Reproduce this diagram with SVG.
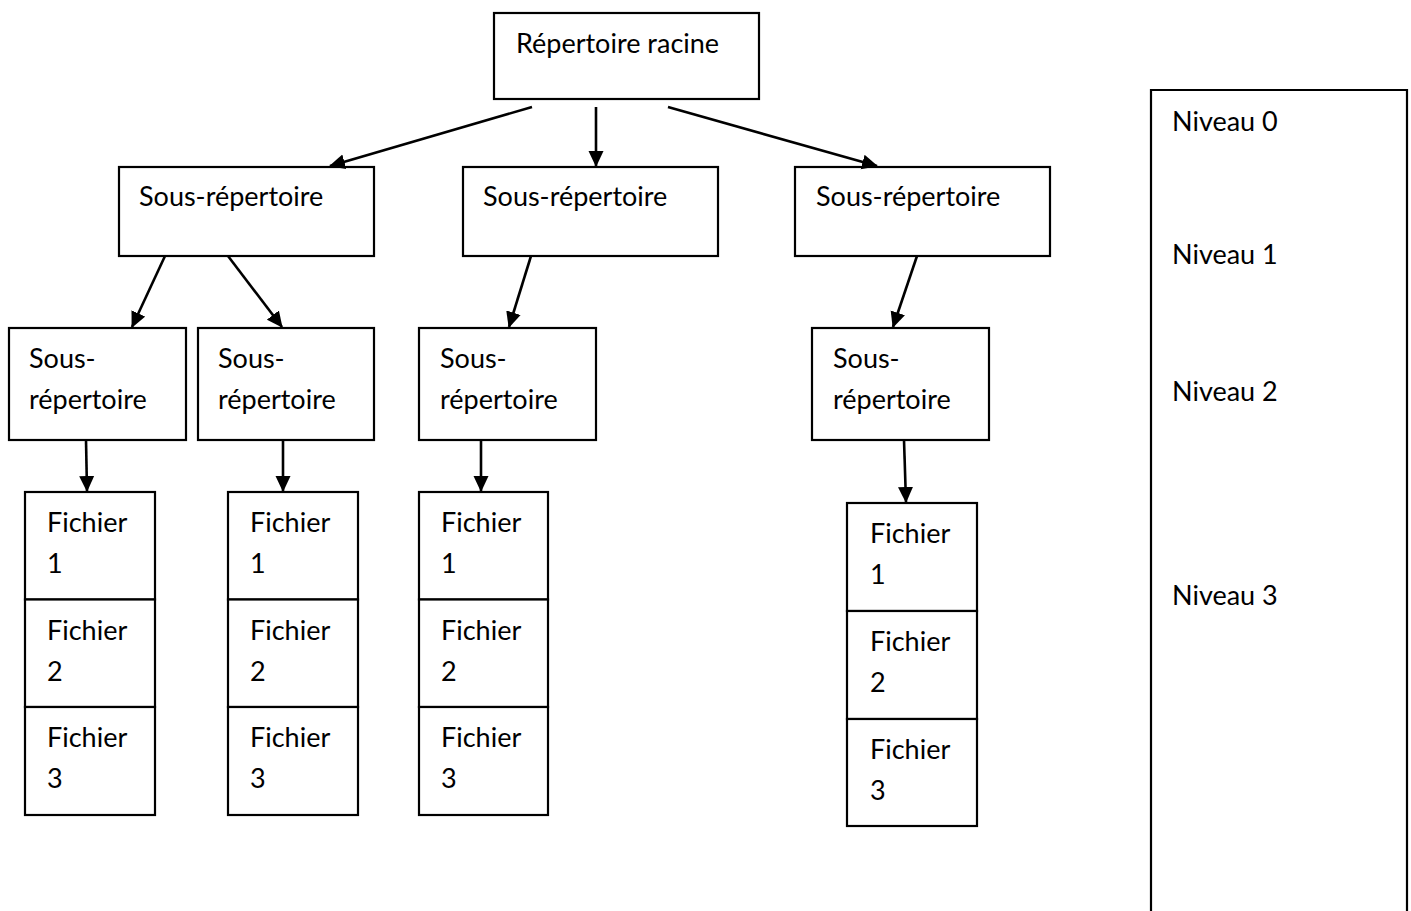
<svg xmlns="http://www.w3.org/2000/svg" width="1411" height="911" viewBox="0 0 1411 911">
  <defs>
    <marker id="arrow" viewBox="0 0 16 16" refX="15" refY="8" markerWidth="16" markerHeight="16" markerUnits="userSpaceOnUse" orient="auto">
      <path d="M0,0.5 L16,8 L0,15.5 z" fill="#000"/>
    </marker>
  </defs>
  <style>
    .box{fill:#fff;stroke:#000;stroke-width:2.2}
    .lbl{font-family:Lato,"Liberation Sans",sans-serif;font-size:27px;fill:#000}
    .conn line{stroke:#000;stroke-width:2.6;fill:none;marker-end:url(#arrow)}
  </style>
  <rect x="0" y="0" width="1411" height="911" fill="#fff"/>

  <!-- root directory -->
  <g id="root">
    <rect class="box" x="494" y="13" width="265" height="86"/>
    <text class="lbl" x="516" y="53">Répertoire racine</text>
  </g>

  <!-- level 1 sub-directories -->
  <g id="sub1">
    <rect class="box" x="119" y="167" width="255" height="89"/>
    <text class="lbl" x="139" y="206">Sous-répertoire</text>
  </g>
  <g id="sub2">
    <rect class="box" x="463" y="167" width="255" height="89"/>
    <text class="lbl" x="483" y="206">Sous-répertoire</text>
  </g>
  <g id="sub3">
    <rect class="box" x="795" y="167" width="255" height="89"/>
    <text class="lbl" x="816" y="206">Sous-répertoire</text>
  </g>

  <!-- level 2 sub-directories -->
  <g id="sub1a">
    <rect class="box" x="9" y="328" width="177" height="112"/>
    <text class="lbl" x="29" y="368">Sous-</text>
    <text class="lbl" x="29" y="409">répertoire</text>
  </g>
  <g id="sub1b">
    <rect class="box" x="198" y="328" width="176" height="112"/>
    <text class="lbl" x="218" y="368">Sous-</text>
    <text class="lbl" x="218" y="409">répertoire</text>
  </g>
  <g id="sub2a">
    <rect class="box" x="419" y="328" width="177" height="112"/>
    <text class="lbl" x="440" y="368">Sous-</text>
    <text class="lbl" x="440" y="409">répertoire</text>
  </g>
  <g id="sub3a">
    <rect class="box" x="812" y="328" width="177" height="112"/>
    <text class="lbl" x="833" y="368">Sous-</text>
    <text class="lbl" x="833" y="409">répertoire</text>
  </g>

  <!-- file stacks -->
  <g id="files1">
    <rect class="box" x="25" y="492" width="130" height="107.5"/>
    <rect class="box" x="25" y="599.5" width="130" height="107.5"/>
    <rect class="box" x="25" y="707" width="130" height="108"/>
    <text class="lbl" x="47" y="532">Fichier</text><text class="lbl" x="47" y="573">1</text>
    <text class="lbl" x="47" y="640">Fichier</text><text class="lbl" x="47" y="681">2</text>
    <text class="lbl" x="47" y="747">Fichier</text><text class="lbl" x="47" y="788">3</text>
  </g>
  <g id="files2">
    <rect class="box" x="228" y="492" width="130" height="107.5"/>
    <rect class="box" x="228" y="599.5" width="130" height="107.5"/>
    <rect class="box" x="228" y="707" width="130" height="108"/>
    <text class="lbl" x="250" y="532">Fichier</text><text class="lbl" x="250" y="573">1</text>
    <text class="lbl" x="250" y="640">Fichier</text><text class="lbl" x="250" y="681">2</text>
    <text class="lbl" x="250" y="747">Fichier</text><text class="lbl" x="250" y="788">3</text>
  </g>
  <g id="files3">
    <rect class="box" x="419" y="492" width="129" height="107.5"/>
    <rect class="box" x="419" y="599.5" width="129" height="107.5"/>
    <rect class="box" x="419" y="707" width="129" height="108"/>
    <text class="lbl" x="441" y="532">Fichier</text><text class="lbl" x="441" y="573">1</text>
    <text class="lbl" x="441" y="640">Fichier</text><text class="lbl" x="441" y="681">2</text>
    <text class="lbl" x="441" y="747">Fichier</text><text class="lbl" x="441" y="788">3</text>
  </g>
  <g id="files4">
    <rect class="box" x="847" y="503" width="130" height="108"/>
    <rect class="box" x="847" y="611" width="130" height="108"/>
    <rect class="box" x="847" y="719" width="130" height="107"/>
    <text class="lbl" x="870" y="543">Fichier</text><text class="lbl" x="870" y="584">1</text>
    <text class="lbl" x="870" y="651">Fichier</text><text class="lbl" x="870" y="692">2</text>
    <text class="lbl" x="870" y="759">Fichier</text><text class="lbl" x="870" y="800">3</text>
  </g>

  <!-- level legend column (open at the bottom) -->
  <g id="levels">
    <path d="M1151,911 V90 H1407 V911" fill="#fff" stroke="#000" stroke-width="2.2"/>
    <text class="lbl" x="1172" y="131">Niveau 0</text>
    <text class="lbl" x="1172" y="264">Niveau 1</text>
    <text class="lbl" x="1172" y="401">Niveau 2</text>
    <text class="lbl" x="1172" y="605">Niveau 3</text>
  </g>

  <!-- connectors -->
  <g id="connectors" class="conn">
    <line x1="532" y1="107" x2="330" y2="166"/>
    <line x1="596" y1="107" x2="596" y2="166"/>
    <line x1="668" y1="107" x2="877" y2="166"/>
    <line x1="165" y1="256" x2="132" y2="327"/>
    <line x1="228" y1="256" x2="282" y2="327"/>
    <line x1="531" y1="256" x2="509" y2="327"/>
    <line x1="917" y1="256" x2="893" y2="327"/>
    <line x1="86" y1="440" x2="87" y2="491"/>
    <line x1="283" y1="440" x2="283" y2="491"/>
    <line x1="481" y1="440" x2="481" y2="491"/>
    <line x1="904" y1="440" x2="906" y2="502"/>
  </g>
</svg>
